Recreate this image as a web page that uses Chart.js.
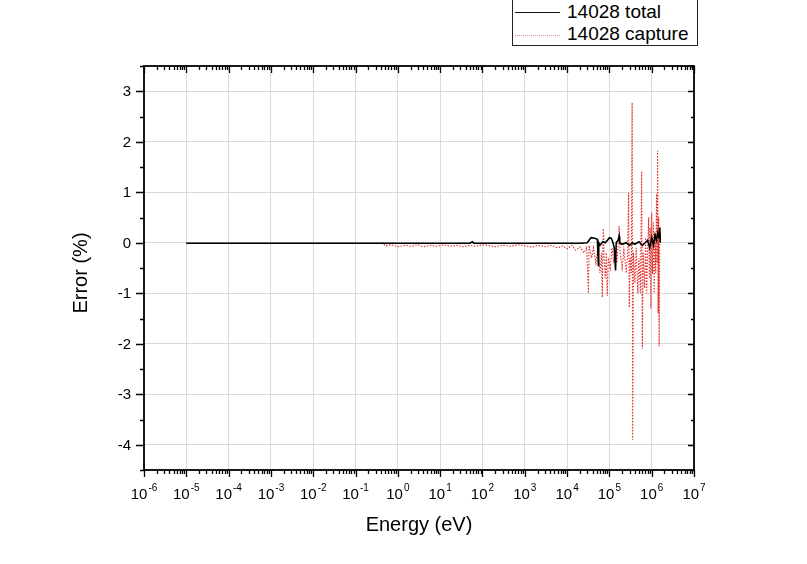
<!DOCTYPE html>
<html>
<head>
<meta charset="utf-8">
<script src="https://cdn.jsdelivr.net/npm/chart.js@4/dist/chart.umd.min.js"></script>
<style>
    body { margin: 0; background: #fff; font-family: 'Liberation Sans', Arial, sans-serif; }
    #wrap { position: relative; width: 807px; height: 564px; overflow: hidden; }
    #legend-box { position: absolute; left: 512px; top: -12px; width: 184px; height: 56px; border: 1px solid #222; background: #fff; }
    .lg-line { position: absolute; left: 515px; width: 45px; height: 0; }
    .lg-text { position: absolute; left: 567px; font-size: 19px; line-height: 22px; color: #000; white-space: nowrap; }
</style>
</head>
<body>
<div id="wrap">
    <canvas id="chart" width="807" height="564"></canvas>
    <div id="legend-box"></div>
    <div class="lg-line" style="top:12px; border-top:1.5px solid #111;"></div>
    <div class="lg-text" style="top:1px;">14028 total</div>
    <div class="lg-line" style="top:35px; border-top:1px dotted #e89090;"></div>
    <div class="lg-text" style="top:23px;">14028 capture</div>
</div>
<script>
// 14028 total (black, solid)
const energyTotal = [1e-5, 1e-4, 1e-3, 1e-2, 0.1, 1, 10, 50, 58, 62, 100, 1000, 5000, 1e4, 2e4, 3e4,
    3.5e4, 3.7e4, 4.5e4, 5.2e4, 5.5e4, 5.6e4, 6e4, 7e4, 8e4, 9e4, 1.0e5, 1.1e5, 1.2e5, 1.3e5,
    1.4e5, 1.45e5, 1.6e5, 1.7e5, 1.75e5, 2e5, 2.5e5, 3e5, 3.5e5, 4e5, 5e5, 6e5, 7e5, 8e5,
    9e5, 1e6, 1.1e6, 1.2e6, 1.3e6, 1.4e6, 1.5e6, 1.55e6, 1.6e6];
const errorTotal = [-0.01, -0.01, -0.01, -0.01, -0.01, -0.01, -0.01, -0.01, 0.02, -0.01, -0.01, -0.01, -0.01, -0.01, -0.01, 0.0,
    0.08, 0.1, 0.09, 0.07, -0.45, 0.0, -0.05, 0.02, 0.0, 0.05, 0.1, 0.09, 0.02, -0.1,
    -0.55, 0.0, 0.05, 0.13, 0.0, -0.03, 0.0, -0.05, 0.0, -0.03, 0.02, -0.05, 0.0, 0.05,
    -0.1, 0.1, -0.05, 0.15, 0.05, 0.2, 0.1, 0.3, 0.0];

// 14028 capture (red, dotted)
const energyCapture = [1e-5, 1e-3, 0.1, 0.45, 0.5, 0.7, 1.0, 1.5, 2, 3, 4, 6, 8, 12, 18, 25, 35, 50, 70,
    100, 150, 200, 300, 450, 700, 1000, 1500, 2000, 3000, 4000, 6000, 8000, 1e4, 1.3e4, 1.6e4,
    2e4, 2.5e4, 2.9e4, 3.2e4, 3.3e4, 3.8e4, 4.2e4, 4.8e4, 5.2e4, 6.0e4, 6.5e4, 6.8e4, 7.0e4,
    7.2e4, 7.5e4, 8.0e4, 8.5e4, 8.9e4, 9.5e4, 1.05e5, 1.15e5, 1.25e5, 1.35e5, 1.5e5, 1.6e5,
    1.7e5, 1.8e5, 2.0e5, 2.2e5, 2.5e5, 2.7e5, 2.85e5, 2.95e5, 3.1e5, 3.3e5, 3.45e5, 3.55e5,
    3.7e5, 4.0e5, 4.3e5, 4.7e5, 5.0e5, 5.4e5, 5.8e5, 6.0e5, 6.3e5, 6.8e5, 7.2e5, 7.6e5,
    8.0e5, 8.5e5, 8.8e5, 9.2e5, 9.6e5, 1.0e6, 1.05e6, 1.1e6, 1.15e6, 1.2e6, 1.25e6, 1.3e6,
    1.35e6, 1.38e6, 1.42e6, 1.46e6, 1.5e6, 1.55e6, 1.6e6];
const errorCapture = [-0.01, -0.01, -0.01, -0.01, -0.06, -0.04, -0.08, -0.05, -0.07, -0.04, -0.08, -0.05, -0.07, -0.04, -0.07, -0.05, -0.08, -0.05, -0.07,
    -0.04, -0.06, -0.08, -0.05, -0.07, -0.04, -0.06, -0.09, -0.05, -0.08, -0.05, -0.1, -0.06, -0.12, -0.05, -0.15,
    -0.08, -0.2, -0.1, -1.0, -0.05, -0.3, -0.1, -0.4, -0.15, -0.6, -0.2, -1.08, -0.1,
    0.28, -0.3, -0.7, -0.2, -1.05, -0.3, -0.5, -0.1, -0.35, -0.15, -0.4, -0.1,
    0.33, -0.2, -0.5, -0.15, -0.6, -0.2, 0.99, -1.28, -0.3, -0.6, 2.77, -3.9,
    -0.2, -0.8, -0.1, -1.0, -0.3, -1.0, 1.42, -2.1, -0.2, -0.9, 0.1, -1.0,
    -0.2, 0.5, -0.7, 0.3, -1.3, 0.6, -0.62, 0.4, -1.0, 0.2, -0.6, 0.97,
    -0.4, 1.82, -1.4, 0.5, -2.05, 0.3, 0.0];

const xDecades = [-6, -5, -4, -3, -2, -1, 0, 1, 2, 3, 4, 5, 6, 7];
const yTicks = [-4, -3, -2, -1, 0, 1, 2, 3];

const toPoints = (xs, ys) => xs.map((x, i) => ({ x: x, y: ys[i] }));

// frame, tick marks, tick labels and axis titles in Origin style
const originAxes = {
    id: 'originAxes',
    afterDraw(chart) {
        const { ctx, chartArea: a, scales: { x, y } } = chart;
        ctx.save();
        ctx.strokeStyle = '#000';
        ctx.lineWidth = 1.8;
        ctx.strokeRect(a.left, a.top, a.right - a.left, a.bottom - a.top);

        ctx.lineWidth = 1.3;
        ctx.beginPath();
        xDecades.forEach(n => {
            for (let k = 1; k <= 9; k++) {
                if (n === 7 && k > 1) break;
                const px = Math.round(x.getPixelForValue(k * Math.pow(10, n))) + 0.5;
                const major = k === 1;
                ctx.moveTo(px, a.bottom);
                ctx.lineTo(px, a.bottom + (major ? 7 : 4));
                ctx.moveTo(px, a.top);
                ctx.lineTo(px, a.top + (major ? 7 : 4));
            }
        });
        for (let v = -4.5; v <= 3.5; v += 0.5) {
            const py = Math.round(y.getPixelForValue(v)) + 0.5;
            const major = Number.isInteger(v);
            ctx.moveTo(a.left, py);
            ctx.lineTo(a.left - (major ? 8 : 4), py);
            ctx.moveTo(a.right, py);
            ctx.lineTo(a.right - (major ? 6 : 3), py);
        }
        ctx.stroke();

        ctx.fillStyle = '#000';
        // y labels
        ctx.font = "15px 'Liberation Sans', Arial";
        ctx.textAlign = 'right';
        ctx.textBaseline = 'middle';
        yTicks.forEach(v => {
            ctx.fillText(String(v), a.left - 13, y.getPixelForValue(v) + 1);
        });

        // x labels 10^n
        ctx.textAlign = 'left';
        ctx.textBaseline = 'alphabetic';
        xDecades.forEach(n => {
            const px = x.getPixelForValue(Math.pow(10, n));
            ctx.font = "15px 'Liberation Sans', Arial";
            const wBase = ctx.measureText('10').width;
            ctx.font = "10px 'Liberation Sans', Arial";
            const exp = n < 0 ? '-' + (-n) : String(n);
            const wExp = ctx.measureText(exp).width;
            const start = px - (wBase + 1 + wExp) / 2;
            ctx.font = "15px 'Liberation Sans', Arial";
            ctx.fillText('10', start, a.bottom + 29);
            ctx.font = "10px 'Liberation Sans', Arial";
            ctx.fillText(exp, start + wBase + 1, a.bottom + 21);
        });

        // axis titles
        ctx.font = "20px 'Liberation Sans', Arial";
        ctx.textAlign = 'center';
        ctx.textBaseline = 'middle';
        ctx.fillText('Energy (eV)', (a.left + a.right) / 2, 525);
        ctx.translate(81, 273);
        ctx.rotate(-Math.PI / 2);
        ctx.fillText('Error (%)', 0, 0);
        ctx.restore();
    }
};

new Chart(document.getElementById('chart'), {
    type: 'scatter',
    data: {
        datasets: [
            {
                label: '14028 capture',
                data: toPoints(energyCapture, errorCapture),
                showLine: true,
                borderColor: '#e2302b',
                borderWidth: 1.1,
                borderDash: [1.5, 1.5],
                pointRadius: 0,
                order: 2
            },
            {
                label: '14028 total',
                data: toPoints(energyTotal, errorTotal),
                showLine: true,
                borderColor: '#000',
                borderWidth: 1.6,
                pointRadius: 0,
                order: 1
            }
        ]
    },
    options: {
        responsive: false,
        animation: false,
        devicePixelRatio: 1,
        layout: { padding: { top: 66, right: 113, left: 0, bottom: 0 } },
        plugins: {
            legend: { display: false },
            tooltip: { enabled: false }
        },
        scales: {
            x: {
                type: 'logarithmic',
                min: 1e-6,
                max: 1e7,
                afterBuildTicks: scale => {
                    scale.ticks = xDecades.map(n => ({ value: Math.pow(10, n) }));
                },
                afterFit: scale => { scale.height = 94; },
                border: { display: false },
                grid: { color: '#dadada', lineWidth: 1, drawTicks: false },
                ticks: { display: false }
            },
            y: {
                min: -4.5,
                max: 3.5,
                afterBuildTicks: scale => {
                    scale.ticks = yTicks.map(v => ({ value: v }));
                },
                afterFit: scale => { scale.width = 144; },
                border: { display: false },
                grid: { color: '#dadada', lineWidth: 1, drawTicks: false },
                ticks: { display: false }
            }
        }
    },
    plugins: [originAxes]
});
</script>
</body>
</html>
